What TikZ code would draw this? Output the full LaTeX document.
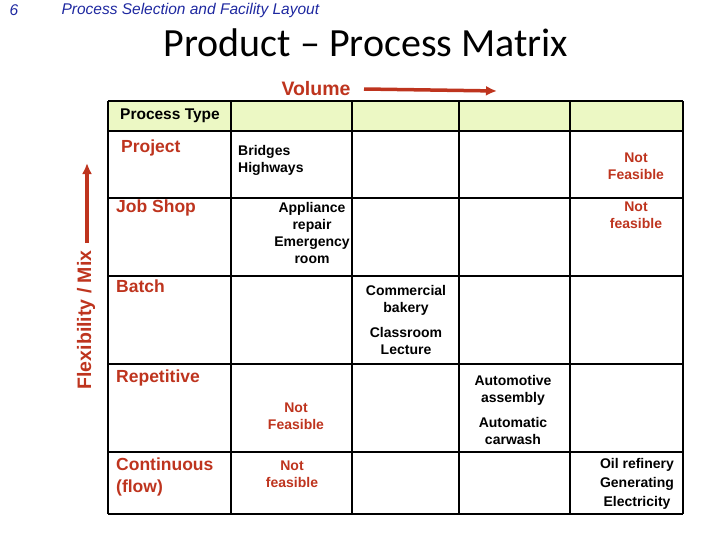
\documentclass[tikz,border=0pt]{standalone}
\usepackage{fontspec}
\setmainfont{Liberation Sans}
\newfontfamily\titlefont{Carlito}
\usetikzlibrary{positioning,arrows.meta}
\definecolor{brick}{RGB}{190,52,30}
\definecolor{paleyellow}{RGB}{236,248,196}
\definecolor{headblue}{RGB}{30,40,160}
\begin{document}
\begin{tikzpicture}[x=1pt,y=-1pt,
    cell/.style={font=\bfseries\fontsize{14}{17}\selectfont, align=center, inner sep=0},
    kind/.style={font=\bfseries\fontsize{17.5}{22}\selectfont, text=brick, align=left, anchor=north west, inner sep=0},
    nofit/.style={cell, text=brick}]
        \useasboundingbox (0,0) rectangle (728,546);

            \node[font=\itshape\fontsize{15.5}{17}\selectfont, text=headblue, anchor=west] (pg) at (6,10) {6};
            \node[font=\itshape\fontsize{15.5}{17}\selectfont, text=headblue, anchor=west] (chap) at (58,10) {Process Selection and Facility Layout};
            \node[font=\titlefont\fontsize{40}{44}\selectfont] (title) at (366,43) {Product \textendash\ Process Matrix};

            \node[font=\bfseries\fontsize{19.5}{22}\selectfont, text=brick] (vol) at (316,89) {Volume};
            \coordinate (v1) at (364,89);
            \coordinate (v2) at (497,91);
            \draw[brick, line width=3.5pt, -{Latex[length=11pt,width=10pt]}] (v1) -- (v2);

            \node[font=\bfseries\fontsize{19.5}{22}\selectfont, text=brick, rotate=90] (flex) at (86,320) {Flexibility / Mix};
            \coordinate (f1) at (87,243);
            \coordinate (f2) at (87,163);
            \draw[brick, line width=3.5pt, -{Latex[length=11pt,width=10pt]}] (f1) -- (f2);

            \fill[paleyellow] (108,101) rectangle (683,131);
            \foreach \x in {108,231,352,459,570,683}
                \draw[line width=1.2pt] (\x,101) -- (\x,514);
            \foreach \y in {101,131,198,276,364,452,514}
                \draw[line width=1.2pt] (108,\y) -- (683,\y);

            \node[font=\bfseries\fontsize{15.5}{18}\selectfont] (ptype) at (170,116) {Process Type};
            \node[kind] (project) at (121,140) {Project};
            \node[kind] (jobshop) at (116,200) {Job Shop};
            \node[kind] (batch) at (116,280) {Batch};
            \node[kind] (repet) at (116,370) {Repetitive};
            \node[kind] (contin) at (116,458) {Continuous\\(flow)};

            \node[cell, align=left, anchor=north west] (bridges) at (238,145) {Bridges\\Highways};
            \node[cell] (appl) at (312,233) {Appliance\\repair\\Emergency\\room};
            \node[cell] (bakery) at (406,320) {Commercial\\bakery\\[8pt]Classroom\\Lecture};
            \node[cell] (auto) at (513,410) {Automotive\\assembly\\[8pt]Automatic\\carwash};
            \node[cell, font=\bfseries\fontsize{14}{19}\selectfont] (oil) at (637,484) {Oil refinery\\Generating\\Electricity};

            \node[nofit] (nf1) at (636,166) {Not\\Feasible};
            \node[nofit] (nf2) at (636,215) {Not\\feasible};
            \node[nofit] (nf3) at (296,416) {Not\\Feasible};
            \node[nofit] (nf4) at (292,474) {Not\\feasible};

        \end{tikzpicture}
\end{document}
